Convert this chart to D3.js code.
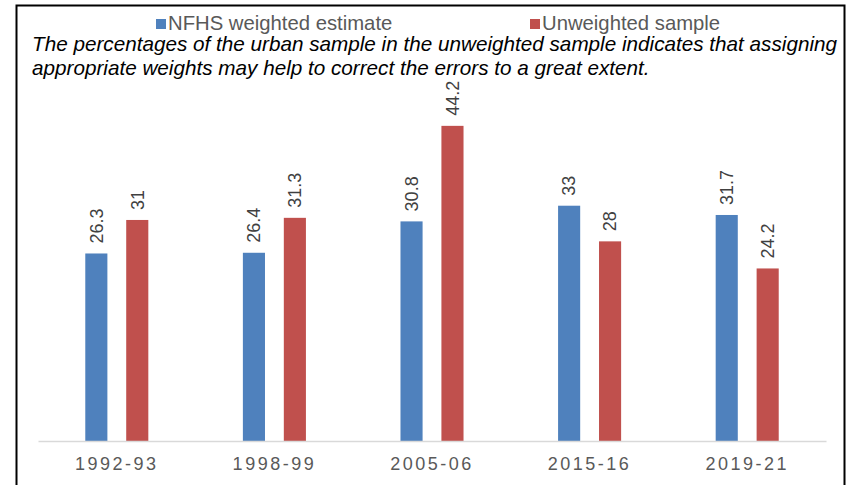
<!DOCTYPE html>
<html lang="en">
<head>
<meta charset="UTF-8">
<title>Urban sample share</title>
<script src="https://cdnjs.cloudflare.com/ajax/libs/d3/7.9.0/d3.min.js"></script>
<style>
  body { margin: 0; background: #fff; }
  svg { display: block; font-family: Arial, "Liberation Sans", sans-serif; }
</style>
</head>
<body>
<div id="chart"></div>
<script>
// data
const rounds = ['1992-93', '1998-99', '2005-06', '2015-16', '2019-21'];
const seriesNames = ['NFHS weighted estimate', 'Unweighted sample'];
const weighted = [26.3, 26.4, 30.8, 33, 31.7];
const unweighted = [31, 31.3, 44.2, 28, 24.2];
const colors = ['#4F81BD', '#C0504D'];
const note = [
  'The percentages of the urban sample in the unweighted sample indicates that assigning',
  'appropriate weights may help to correct the errors to a great extent.'
];

const width = 854, height = 485;
const margin = { top: 84.5, right: 28, bottom: 44, left: 38 };

const svg = d3.select('#chart').append('svg')
  .attr('width', width)
  .attr('height', height);

// frame around the figure
svg.append('rect')
  .attr('x', 16.5).attr('y', 5.5)
  .attr('width', 828).attr('height', 500)
  .attr('fill', 'none')
  .attr('stroke', '#000')
  .attr('stroke-width', 2);

const data = rounds.map((r, i) => ({ round: r, values: [weighted[i], unweighted[i]] }));

const x0 = d3.scaleBand()
  .domain(rounds)
  .range([margin.left, width - margin.right])
  .paddingInner(0.6)
  .paddingOuter(0.3);

const x1 = d3.scaleBand()
  .domain([0, 1])
  .range([0, x0.bandwidth()])
  .paddingInner(0.46);

const y = d3.scaleLinear()
  .domain([0, 50])
  .range([height - margin.bottom, margin.top]);

const groups = svg.append('g')
  .selectAll('g')
  .data(data)
  .enter().append('g')
  .attr('transform', d => `translate(${x0(d.round)},0)`);

groups.selectAll('rect')
  .data(d => d.values.map((v, i) => ({ v, i })))
  .enter().append('rect')
  .attr('x', d => x1(d.i))
  .attr('y', d => y(d.v))
  .attr('width', x1.bandwidth())
  .attr('height', d => y(0) - y(d.v))
  .attr('fill', d => colors[d.i]);

// value labels, rotated
groups.selectAll('text')
  .data(d => d.values.map((v, i) => ({ v, i })))
  .enter().append('text')
  .attr('transform', d => `translate(${x1(d.i) + x1.bandwidth() / 2},${y(d.v) - 10}) rotate(-90)`)
  .attr('dy', '0.35em')
  .attr('font-size', 18)
  .attr('fill', '#404040')
  .text(d => d.v);

// x axis
const xAxis = svg.append('g')
  .attr('transform', `translate(0,${y(0)})`)
  .call(d3.axisBottom(x0).tickSize(0).tickPadding(16));
xAxis.select('.domain').attr('stroke', '#D9D9D9').attr('stroke-width', 1.5);
xAxis.selectAll('text')
  .attr('font-size', 18)
  .attr('fill', '#595959')
  .attr('font-family', 'Arial, "Liberation Sans", sans-serif')
  .style('letter-spacing', '2.5px');

// legend
const legendX = [156, 530];
const legend = svg.append('g')
  .selectAll('g')
  .data(seriesNames)
  .enter().append('g')
  .attr('transform', (d, i) => `translate(${legendX[i]},19)`);
legend.append('rect')
  .attr('width', 10).attr('height', 10)
  .attr('fill', (d, i) => colors[i]);
legend.append('text')
  .attr('x', 12).attr('y', 11)
  .attr('font-size', 20.3)
  .attr('fill', '#595959')
  .text(d => d);

// note in italics
svg.append('g')
  .selectAll('text')
  .data(note)
  .enter().append('text')
  .attr('x', 32)
  .attr('y', (d, i) => 51 + i * 24)
  .attr('font-size', 20.7)
  .attr('font-style', 'italic')
  .attr('fill', '#000')
  .text(d => d);
</script>
</body>
</html>
